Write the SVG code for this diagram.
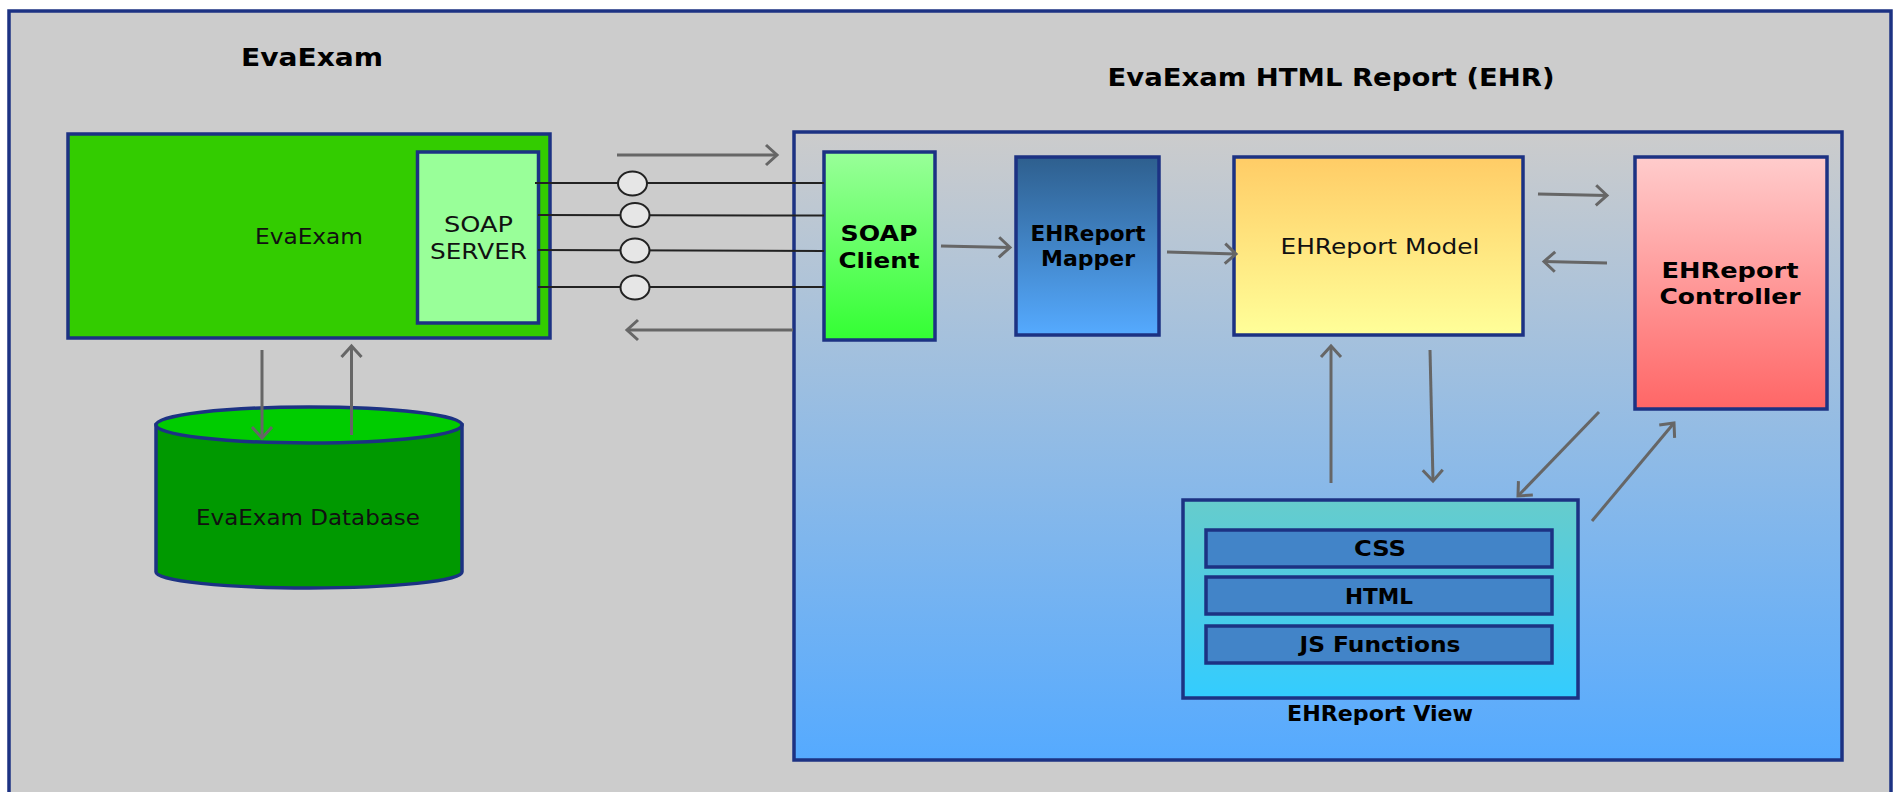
<svg xmlns="http://www.w3.org/2000/svg" width="1894" height="792" viewBox="0 0 1894 792">
<style>
.box{stroke:#1c3283;stroke-width:3.5}
text{font-family:"DejaVu Sans",sans-serif;fill:#000;text-anchor:middle}
.b{font-weight:bold;font-size:20.5px}
.r{font-size:20.5px;fill:#111}
.t{font-weight:bold;font-size:24px}
.arrow{fill:none;stroke:#666;stroke-width:3;marker-end:url(#head)}
.wire{fill:none;stroke:#222;stroke-width:2}
.port{fill:#e6e6e6;stroke:#222;stroke-width:2}
</style>
<defs>
<marker id="head" markerUnits="userSpaceOnUse" markerWidth="20" markerHeight="28" refX="15" refY="14" orient="auto">
<path d="M4 4L15 14L4 24" fill="none" stroke="#666" stroke-width="3"/>
</marker>
<linearGradient id="gC" x1="0" y1="0" x2="0" y2="1"><stop offset="0" stop-color="#cccccc"/><stop offset="1" stop-color="#55aaff"/></linearGradient>
<linearGradient id="gS" x1="0" y1="0" x2="0" y2="1"><stop offset="0" stop-color="#99ff99"/><stop offset="1" stop-color="#33ff33"/></linearGradient>
<linearGradient id="gM" x1="0" y1="0" x2="0" y2="1"><stop offset="0" stop-color="#2e5f8e"/><stop offset="1" stop-color="#55aaff"/></linearGradient>
<linearGradient id="gY" x1="0" y1="0" x2="0" y2="1"><stop offset="0" stop-color="#ffcc66"/><stop offset="1" stop-color="#ffff99"/></linearGradient>
<linearGradient id="gR" x1="0" y1="0" x2="0" y2="1"><stop offset="0" stop-color="#ffcccc"/><stop offset="1" stop-color="#ff6666"/></linearGradient>
<linearGradient id="gV" x1="0" y1="0" x2="0" y2="1"><stop offset="0" stop-color="#66cccc"/><stop offset="1" stop-color="#33ccff"/></linearGradient>
</defs>
<rect width="1894" height="792" fill="#fff"/>
<rect id="frame" class="box" x="9" y="11" width="1882" height="800" fill="#cccccc"/>
<text class="t" x="312" y="66" textLength="142" lengthAdjust="spacingAndGlyphs">EvaExam</text>
<text class="t" x="1331" y="86" textLength="447" lengthAdjust="spacingAndGlyphs">EvaExam HTML Report (EHR)</text>
<g id="evaexam">
<rect class="box" x="68" y="134" width="482" height="204" fill="#33cc00"/>
<text class="r" x="309" y="244" textLength="108" lengthAdjust="spacingAndGlyphs">EvaExam</text>
</g>
<g id="soap-server">
<rect class="box" x="417.500" y="152" width="121" height="171" fill="#99ff99"/>
<text class="r" x="478.500" y="232" textLength="69" lengthAdjust="spacingAndGlyphs">SOAP</text>
<text class="r" x="478.500" y="259" textLength="97" lengthAdjust="spacingAndGlyphs">SERVER</text>
</g>
<g id="database">
<path class="box" d="M156 425V572C156 581 225 588 309 588S462 581 462 572V425Z" fill="#009900"/>
<ellipse class="box" cx="309" cy="425" rx="153" ry="18" fill="#00cc00"/>
<text class="r" x="308" y="525" textLength="224" lengthAdjust="spacingAndGlyphs">EvaExam Database</text>
</g>
<g id="ehr">
<rect class="box" x="794" y="132" width="1048" height="628" fill="url(#gC)"/>
</g>
<g id="soap-client">
<rect class="box" x="824" y="152" width="111" height="188" fill="url(#gS)"/>
<text class="b" x="879" y="241" textLength="77" lengthAdjust="spacingAndGlyphs">SOAP</text>
<text class="b" x="879" y="268" textLength="81" lengthAdjust="spacingAndGlyphs">Client</text>
</g>
<g id="mapper">
<rect class="box" x="1016" y="157" width="143" height="178" fill="url(#gM)"/>
<text class="b" x="1088" y="241" textLength="115" lengthAdjust="spacingAndGlyphs">EHReport</text>
<text class="b" x="1088" y="266" textLength="94" lengthAdjust="spacingAndGlyphs">Mapper</text>
</g>
<g id="model">
<rect class="box" x="1234" y="157" width="289" height="178" fill="url(#gY)"/>
<text class="r" style="font-size:22px" x="1380" y="254" textLength="199" lengthAdjust="spacingAndGlyphs">EHReport Model</text>
</g>
<g id="controller">
<rect class="box" x="1635" y="157" width="192" height="252" fill="url(#gR)"/>
<text class="b" x="1730" y="278" textLength="137" lengthAdjust="spacingAndGlyphs">EHReport</text>
<text class="b" x="1730" y="304" textLength="141" lengthAdjust="spacingAndGlyphs">Controller</text>
</g>
<g id="view">
<rect class="box" x="1183" y="500" width="395" height="198" fill="url(#gV)"/>
<text class="b" x="1380" y="721" textLength="186" lengthAdjust="spacingAndGlyphs">EHReport View</text>
</g>
<g id="css"><rect class="box" x="1206" y="530" width="346" height="37" fill="#4284c8"/><text class="b" x="1380" y="556" textLength="52" lengthAdjust="spacingAndGlyphs">CSS</text></g>
<g id="html"><rect class="box" x="1206" y="577" width="346" height="37" fill="#4284c8"/><text class="b" x="1379" y="604" textLength="68" lengthAdjust="spacingAndGlyphs">HTML</text></g>
<g id="js"><rect class="box" x="1206" y="626" width="346" height="37" fill="#4284c8"/><text class="b" x="1380" y="652" textLength="161" lengthAdjust="spacingAndGlyphs">JS Functions</text></g>
<g id="connectors">
<path class="wire" d="M535 183H824M538 215L824 215.500M538 250L824 251M538 287H824"/>
<ellipse class="port" cx="632.500" cy="183.500" rx="14.500" ry="12"/>
<ellipse class="port" cx="635" cy="215" rx="14.500" ry="12"/>
<ellipse class="port" cx="635" cy="250.500" rx="14.500" ry="12"/>
<ellipse class="port" cx="635" cy="287.500" rx="14.500" ry="12"/>
<path class="arrow" d="M617 155H777"/>
<path class="arrow" d="M793 330H627"/>
<path class="arrow" d="M262 350V438"/>
<path class="arrow" d="M351.500 435V346"/>
<path class="arrow" d="M941 246L1010 247.500"/>
<path class="arrow" d="M1167 252L1236 254"/>
<path class="arrow" d="M1538 194L1607 195.500"/>
<path class="arrow" d="M1607 263L1544 261.500"/>
<path class="arrow" d="M1331 483V346"/>
<path class="arrow" d="M1430 350L1433 481"/>
<path class="arrow" d="M1599 412L1518 496"/>
<path class="arrow" d="M1592 521L1674 423"/>
</g>
</svg>
